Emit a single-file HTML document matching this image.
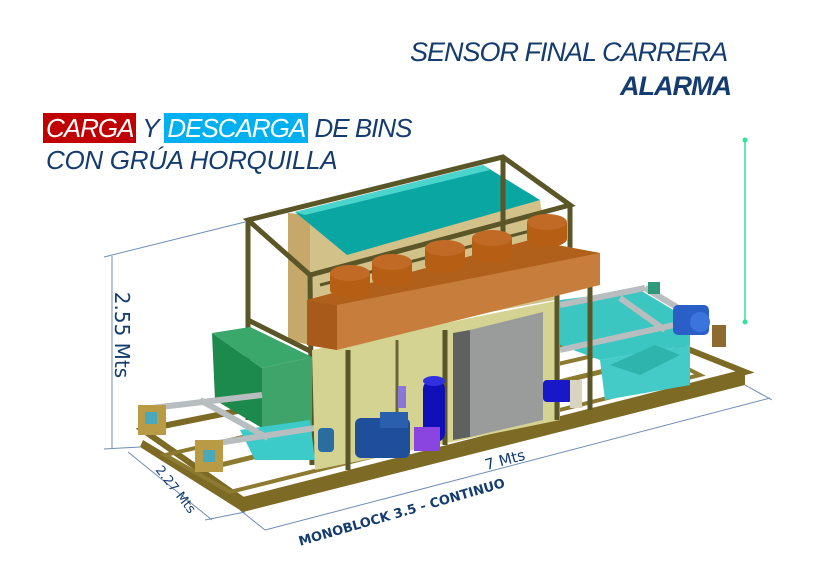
<!DOCTYPE html>
<html><head><meta charset="utf-8"><style>
html,body{margin:0;padding:0;background:#fff;}
body{width:815px;height:584px;position:relative;overflow:hidden;font-family:"Liberation Sans",sans-serif;}
.t{position:absolute;color:#143c6e;font-style:italic;font-size:27px;white-space:nowrap;letter-spacing:-1px;}
</style></head><body>
<svg width="815" height="584" style="position:absolute;left:0;top:0">
<g stroke="#6f8db5" stroke-width="1" fill="none">
<line x1="112" y1="256" x2="112" y2="449"/>
<line x1="104" y1="257" x2="245" y2="222"/>
<line x1="104" y1="449" x2="140" y2="447"/>
<line x1="128" y1="452" x2="212" y2="520"/>
<line x1="205" y1="520" x2="245" y2="512"/>
<line x1="240" y1="510" x2="265" y2="530"/>
<line x1="265" y1="530" x2="770" y2="398"/>
<line x1="745" y1="385" x2="772" y2="400"/>
</g>
<line x1="745" y1="140" x2="745" y2="322" stroke="#2ee39a" stroke-width="1.5"/>
<circle cx="745" cy="140" r="2.5" fill="#2ee39a"/><circle cx="745" cy="322" r="2.5" fill="#2ee39a"/>

<!-- base frame -->
<polygon points="143,440 243,500 745,372 745,385 243,512 140,447" fill="#7d6a25"/>
<polygon points="143,430 640,330 745,372 243,500" fill="none" stroke="#7d6a25" stroke-width="6"/>
<polygon points="165,455 230,492 700,375 640,345" fill="none" stroke="#8c7a30" stroke-width="4"/>
<line x1="200" y1="470" x2="690" y2="350" stroke="#8c7a30" stroke-width="5"/>

<!-- right cyan tanks -->
<polygon points="560,300 640,290 690,320 690,345 600,360 560,345" fill="#3cc6c2"/>
<polygon points="600,360 690,345 690,385 605,400" fill="#44cbc8"/>
<polygon points="610,365 655,345 680,355 640,375" fill="#2fb3ad"/>
<g stroke="#b8bdbf" stroke-width="6">
<line x1="560" y1="305" x2="645" y2="288"/>
<line x1="645" y1="288" x2="695" y2="318"/>
<line x1="560" y1="350" x2="688" y2="322"/>
<line x1="620" y1="298" x2="665" y2="330"/>
</g>
<rect x="673" y="305" width="36" height="30" rx="5" fill="#2a5fc8"/>
<circle cx="700" cy="322" r="10" fill="#3b74dd"/>
<rect x="648" y="282" width="12" height="12" fill="#2e9a7a"/>
<rect x="712" y="325" width="14" height="22" fill="#8c6a30"/>

<!-- upper frame & tank -->
<polygon points="288,213 310,215 310,345 288,340" fill="#c5a86a"/>
<polygon points="310,215 540,200 555,300 310,345" fill="#d3c18a"/>
<polygon points="295,212 483,165 540,200 347,255" fill="#0aa6a2"/>
<polygon points="295,212 483,165 490,170 305,215" fill="#4ad4cc"/>
<g stroke="#5b5628" stroke-width="5" fill="none">
<polygon points="248,220 503,157 570,205 310,275"/>
<line x1="248" y1="220" x2="248" y2="420"/>
<line x1="310" y1="275" x2="312" y2="465"/>
<line x1="570" y1="205" x2="570" y2="280"/>
<line x1="503" y1="157" x2="503" y2="240"/>
<line x1="248" y1="320" x2="312" y2="352"/>
</g>
<line x1="320" y1="285" x2="565" y2="222" stroke="#5b5628" stroke-width="3"/>

<!-- green box -->
<polygon points="212,333 262,368 262,428 215,400" fill="#1c8a4c"/>
<polygon points="212,333 250,327 312,357 262,368" fill="#3aa86a"/>
<polygon points="262,368 312,357 312,455 262,428" fill="#3fa46a"/>
<!-- left rails & cyan -->
<polygon points="240,430 310,420 315,460 255,460" fill="#3ccbc8"/>
<g stroke="#b8bdbf" stroke-width="6">
<line x1="152" y1="408" x2="262" y2="395"/>
<line x1="205" y1="445" x2="315" y2="428"/>
<line x1="200" y1="400" x2="268" y2="438"/>
</g>
<rect x="138" y="405" width="28" height="30" fill="#b99a45"/>
<rect x="195" y="440" width="28" height="32" fill="#b99a45"/>
<rect x="145" y="412" width="12" height="12" fill="#4aa8b8"/>
<rect x="203" y="450" width="12" height="12" fill="#4aa8b8"/>

<polygon points="312,350 560,300 560,420 315,470" fill="#d5d392"/>
<polygon points="453,333 470,330 470,437 453,440" fill="#5f6060"/>
<polygon points="470,330 543,312 543,420 470,437" fill="#9a9b9b"/>
<g stroke="#5b5628" stroke-width="5">
<line x1="348" y1="350" x2="348" y2="470"/>
<line x1="557" y1="290" x2="557" y2="420"/>
<line x1="590" y1="280" x2="590" y2="410"/>
<line x1="445" y1="330" x2="445" y2="445"/>
</g>
<line x1="397" y1="340" x2="397" y2="420" stroke="#6a6535" stroke-width="3"/>

<polygon points="307,300 530,240 600,253 600,285 337,350 307,345" fill="#c77e3c"/>
<polygon points="307,300 530,240 600,253 337,305" fill="#b0601a"/>
<polygon points="307,300 337,305 337,350 307,345" fill="#a85a1a"/>
<g fill="#b65e14">
<rect x="330" y="273" width="40" height="17"/><ellipse cx="350" cy="290" rx="20" ry="8"/><ellipse cx="350" cy="273" rx="20" ry="8" fill="#c06a25"/>
<rect x="372" y="262" width="40" height="17"/><ellipse cx="392" cy="279" rx="20" ry="8"/><ellipse cx="392" cy="262" rx="20" ry="8" fill="#c06a25"/>
<rect x="425" y="248" width="40" height="17"/><ellipse cx="445" cy="265" rx="20" ry="8"/><ellipse cx="445" cy="248" rx="20" ry="8" fill="#c06a25"/>
<rect x="472" y="238" width="40" height="17"/><ellipse cx="492" cy="255" rx="20" ry="8"/><ellipse cx="492" cy="238" rx="20" ry="8" fill="#c06a25"/>
<rect x="527" y="222" width="40" height="17"/><ellipse cx="547" cy="239" rx="20" ry="8"/><ellipse cx="547" cy="222" rx="20" ry="8" fill="#c06a25"/>
</g>

<rect x="355" y="418" width="55" height="40" rx="6" fill="#1f4f9a"/>
<rect x="380" y="412" width="28" height="16" fill="#2a5fae"/>
<rect x="398" y="386" width="8" height="22" fill="#8877d8"/>
<rect x="423" y="380" width="22" height="62" rx="9" fill="#1010b8"/>
<ellipse cx="434" cy="381" rx="11" ry="5" fill="#3030e0"/>
<rect x="414" y="427" width="26" height="24" fill="#8a45e0"/>
<rect x="318" y="428" width="16" height="24" rx="4" fill="#2a6ea0"/>
<rect x="543" y="380" width="30" height="22" rx="4" fill="#1818c8"/>
<rect x="570" y="380" width="12" height="28" fill="#d8d4c0"/>
</svg>

<div class="t" style="left:410px;top:37px;">SENSOR FINAL CARRERA</div>
<div class="t" style="left:620px;top:71px;font-weight:bold;">ALARMA</div>
<div class="t" style="left:43px;top:113px;font-size:26px;">
<span style="background:#c00000;color:#fff;padding:0 3px;">CARGA</span> Y <span style="background:#00b0f0;color:#fff;padding:0 3px;">DESCARGA</span> DE BINS</div>
<div class="t" style="left:46px;top:145px;font-size:26px;letter-spacing:-0.3px;">CON GRÚA HORQUILLA</div>

<div style="position:absolute;left:122px;top:335px;transform:translate(-50%,-50%) rotate(90deg);color:#143c6e;font-size:20px;white-space:nowrap;font-family:'DejaVu Sans',sans-serif;">2.55 Mts</div>
<div style="position:absolute;left:505px;top:460px;transform:translate(-50%,-50%) rotate(-15deg);color:#143c6e;font-size:15px;white-space:nowrap;font-family:'DejaVu Sans',sans-serif;">7 Mts</div>
<div style="position:absolute;left:175px;top:490px;transform:translate(-50%,-50%) rotate(52deg);color:#143c6e;font-size:13px;white-space:nowrap;font-family:'DejaVu Sans',sans-serif;">2.27 Mts</div>
<div style="position:absolute;left:402px;top:513px;transform:translate(-50%,-50%) rotate(-16deg);color:#143c6e;font-size:13px;font-weight:bold;white-space:nowrap;font-family:'DejaVu Sans',sans-serif;">MONOBLOCK 3.5 - CONTINUO</div>
</body></html>
